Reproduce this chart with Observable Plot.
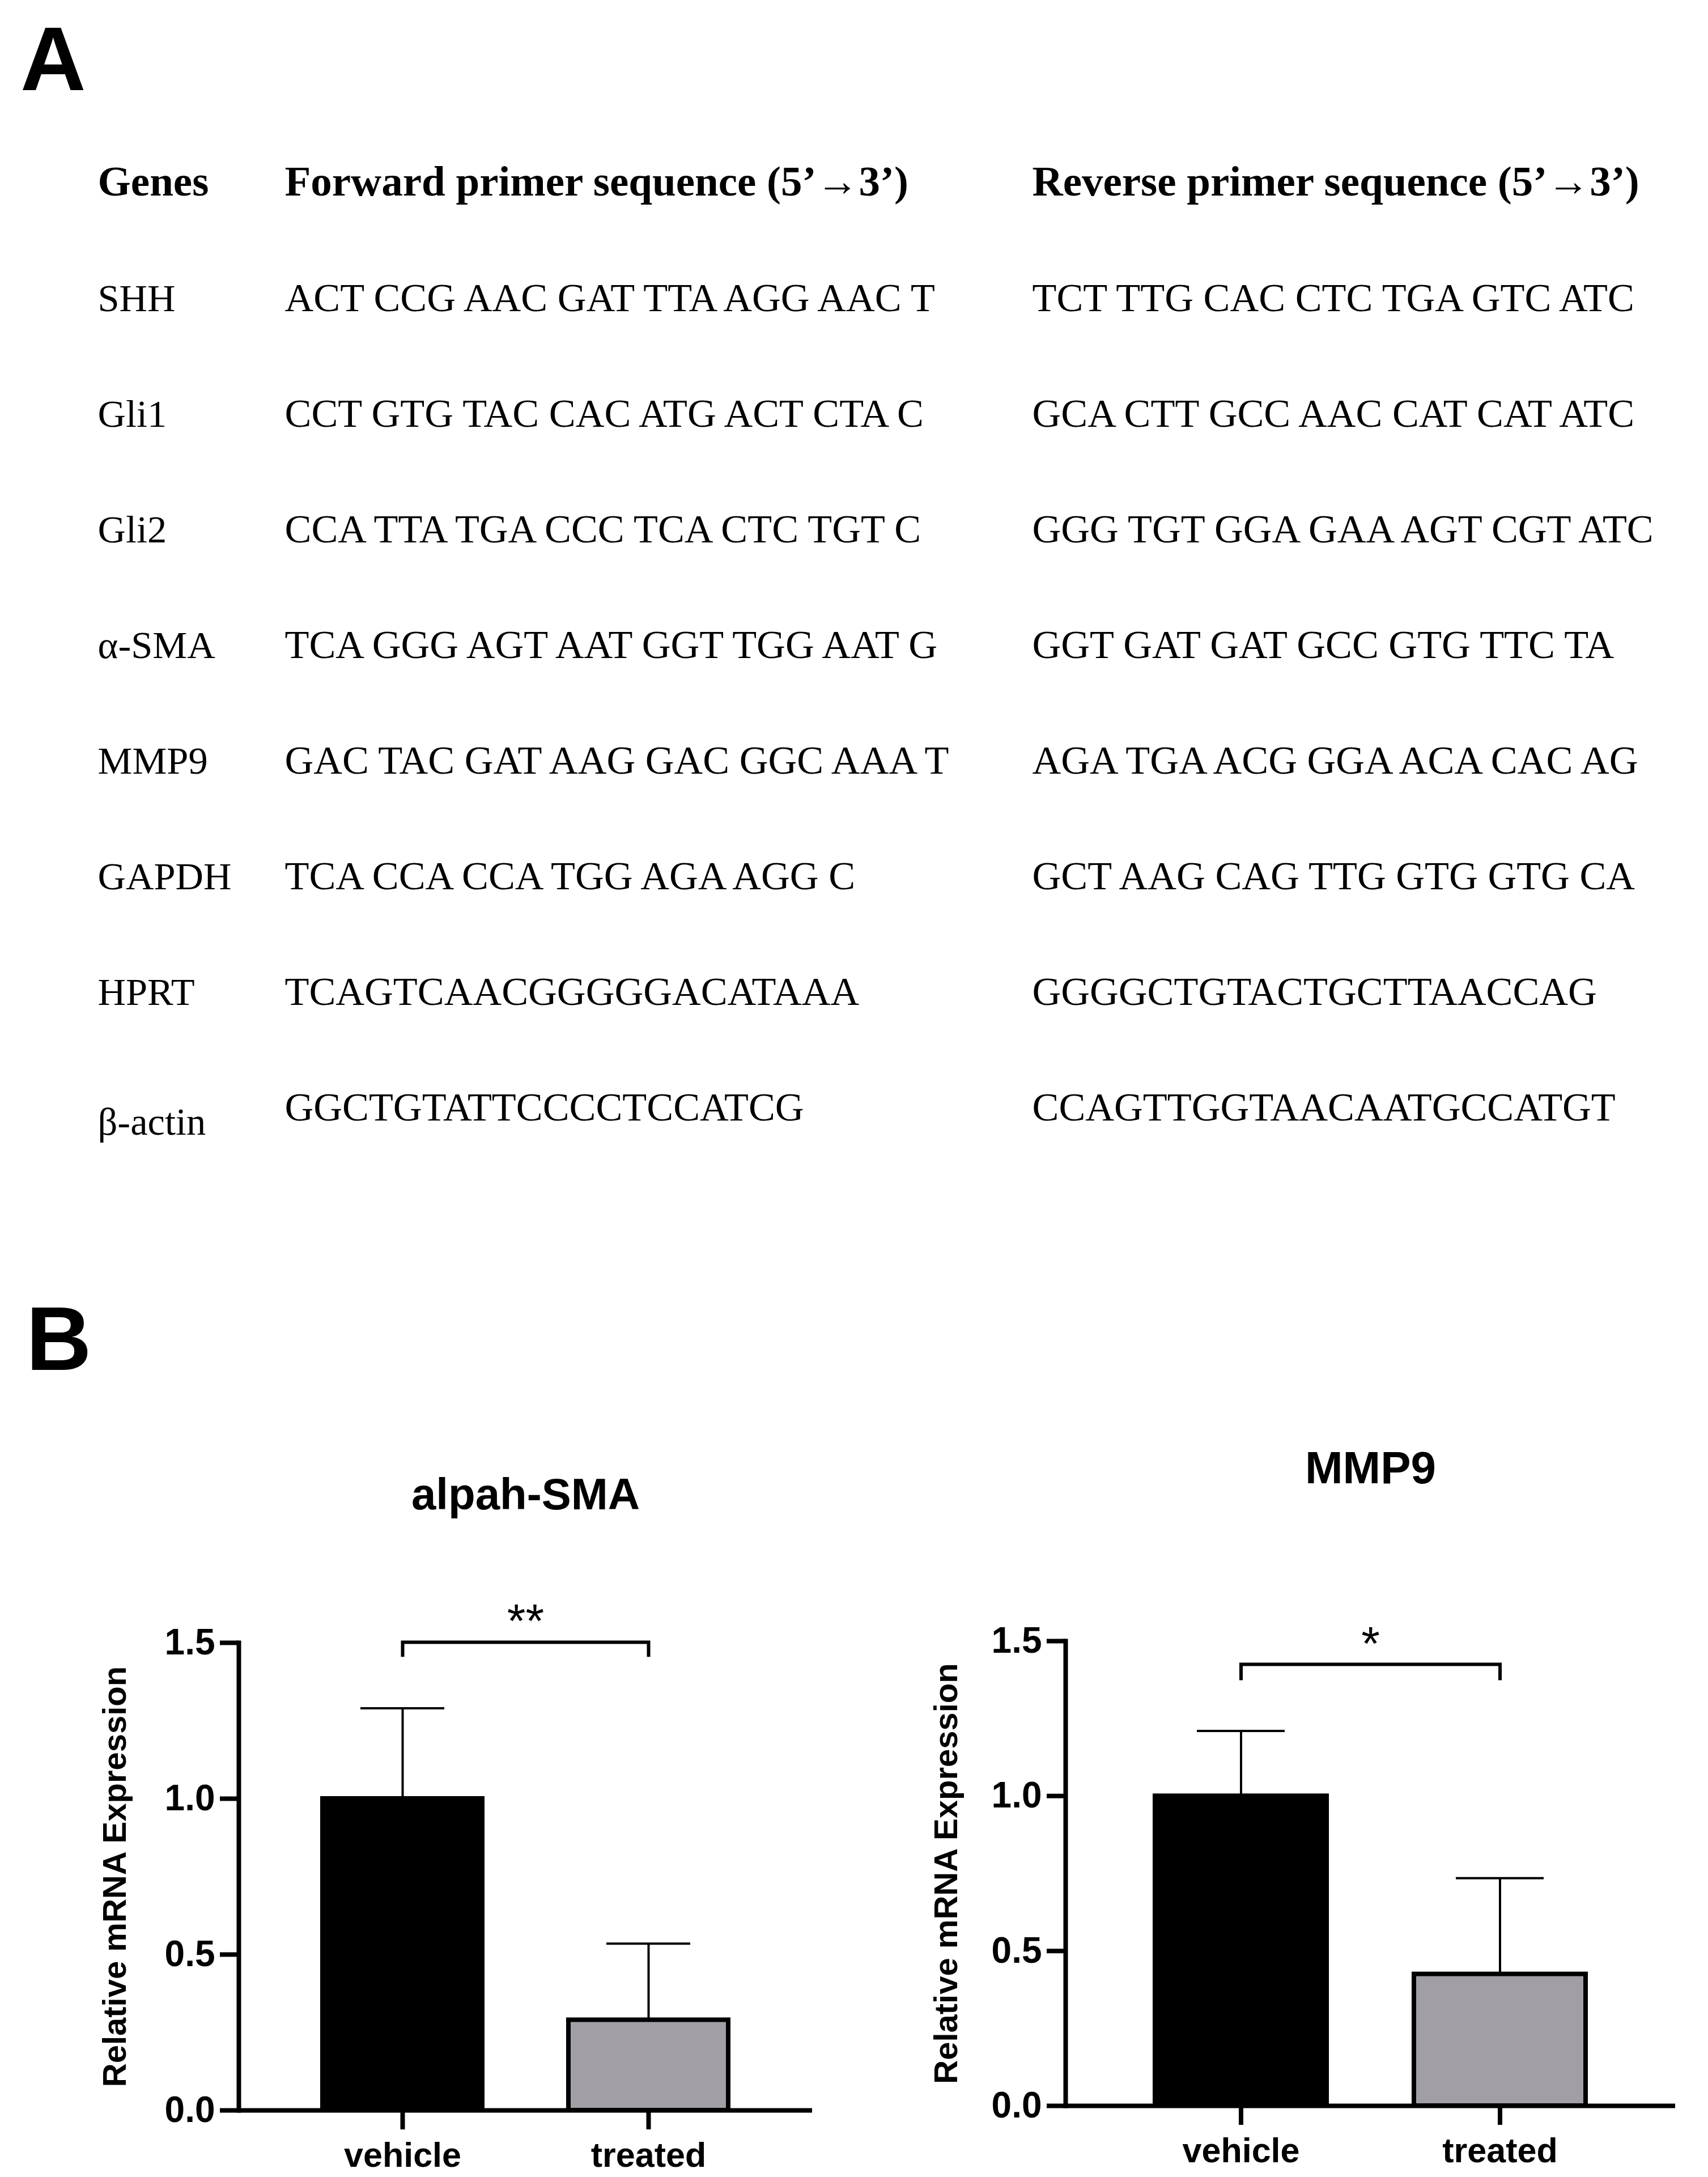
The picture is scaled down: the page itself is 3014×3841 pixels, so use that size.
<!DOCTYPE html>
<html><head><meta charset="utf-8">
<script src="https://cdn.jsdelivr.net/npm/d3@7"></script>
<script src="https://cdn.jsdelivr.net/npm/@observablehq/plot@0.6"></script>
<style>
html,body{margin:0;padding:0;background:#fff;}
#page{position:relative;width:3014px;height:3841px;background:#fff;overflow:hidden;}
.panel{position:absolute;font-family:"Liberation Sans",Arial,sans-serif;font-weight:bold;font-size:160px;line-height:1;color:#000;}
</style></head>
<body><div id="page">
<div class="panel" style="left:36px;top:24px">A</div>
<div class="panel" style="left:46px;top:2282px">B</div>
</div>
<script>
// ---------- Panel A data ----------
const tableHeaders = ["Genes", "Forward primer sequence (5’→3’)", "Reverse primer sequence (5’→3’)"];
const genes = ["SHH", "Gli1", "Gli2", "α-SMA", "MMP9", "GAPDH", "HPRT", "β-actin"];
const forwardPrimers = [
  "ACT CCG AAC GAT TTA AGG AAC T",
  "CCT GTG TAC CAC ATG ACT CTA C",
  "CCA TTA TGA CCC TCA CTC TGT C",
  "TCA GGG AGT AAT GGT TGG AAT G",
  "GAC TAC GAT AAG GAC GGC AAA T",
  "TCA CCA CCA TGG AGA AGG C",
  "TCAGTCAACGGGGGACATAAA",
  "GGCTGTATTCCCCTCCATCG"
];
const reversePrimers = [
  "TCT TTG CAC CTC TGA GTC ATC",
  "GCA CTT GCC AAC CAT CAT ATC",
  "GGG TGT GGA GAA AGT CGT ATC",
  "GGT GAT GAT GCC GTG TTC TA",
  "AGA TGA ACG GGA ACA CAC AG",
  "GCT AAG CAG TTG GTG GTG CA",
  "GGGGCTGTACTGCTTAACCAG",
  "CCAGTTGGTAACAATGCCATGT"
];

// ---------- Panel B data ----------
const groups = ["vehicle", "treated"];
const smaMean = [1.0, 0.29];
const smaSD = [0.29, 0.245];
const mmp9Mean = [1.0, 0.425];
const mmp9SD = [0.21, 0.31];
const yTicks = [0, 0.5, 1.0, 1.5];
const smaBracket = {top: 1.502, foot: 1.455, label: "**"};
const mmp9Bracket = {top: 1.425, foot: 1.374, label: "*"};
const yAxisLabel = "Relative mRNA Expression";
const barColors = ["#000000", "#a19fa5"];

const page = document.getElementById("page");
function place(el, left, top) {
  el.style.position = "absolute";
  el.style.left = left + "px";
  el.style.top = top + "px";
  page.appendChild(el);
}

// ---------- Panel A: primer table ----------
const HEADER = "__header";
const rows = genes.map((g, i) => ({gene: g, fwd: forwardPrimers[i], rev: reversePrimers[i]}));
const colOffsets = [172, 502, 1821];
const colAccess = [d => d.gene, d => d.fwd, d => d.rev];
const colFont = [68.5, 70.3, 70.3];
const tableMarks = [];
colOffsets.forEach((off, c) => {
  tableMarks.push(Plot.text([tableHeaders[c]], {
    y: () => HEADER, text: d => d, frameAnchor: "left", textAnchor: "start",
    lineAnchor: "bottom", dx: off, fontSize: 75, fontWeight: "bold"
  }));
  tableMarks.push(Plot.text(rows, {
    filter: c === 0 ? (d => d.gene !== "β-actin") : undefined,
    y: "gene", text: colAccess[c], frameAnchor: "left", textAnchor: "start",
    lineAnchor: "bottom", dx: off, fontSize: colFont[c]
  }));
});
tableMarks.push(Plot.text(rows, {
  filter: d => d.gene === "β-actin",
  y: "gene", text: d => d.gene, frameAnchor: "left", textAnchor: "start",
  lineAnchor: "bottom", dx: colOffsets[0], dy: 25, fontSize: colFont[0]
}));

const table = Plot.plot({
  width: 3014, height: 2100, margin: 0,
  y: {type: "point", domain: [HEADER, ...genes], range: [341, 1978], padding: 0, axis: null},
  style: {fontFamily: "'Liberation Serif','Times New Roman',serif", color: "#000", background: "transparent"},
  marks: tableMarks
});
place(table, 0, 0);

// ---------- Panel B: bar charts ----------
function barChart(o) {
  const data = groups.map((g, i) => ({group: g, mean: o.mean[i], sd: o.sd[i]}));
  const bracketPts = [
    {group: groups[0], y: o.bracket.foot},
    {group: groups[0], y: o.bracket.top},
    {group: groups[1], y: o.bracket.top},
    {group: groups[1], y: o.bracket.foot}
  ];
  return Plot.plot({
    width: o.width, height: o.height,
    marginLeft: o.ml, marginRight: o.mr, marginTop: o.mt, marginBottom: o.mb,
    x: {type: "band", domain: groups, paddingInner: o.padIn, paddingOuter: o.padOut, label: null},
    y: {domain: [0, 1.5], label: null},
    color: {domain: groups, range: barColors},
    style: {fontFamily: "'Liberation Sans',Arial,sans-serif", fontWeight: "bold", color: "#000", background: "transparent"},
    marks: [
      Plot.ruleX(data, {x: "group", y1: "mean", y2: d => d.mean + d.sd, strokeWidth: 4}),
      Plot.tickY(data, {x: "group", y: d => d.mean + d.sd, strokeWidth: 4, insetLeft: o.cap, insetRight: o.cap}),
      Plot.barY(data, {x: "group", y: "mean", fill: "group", stroke: "#000", strokeWidth: 8}),
      Plot.frame({anchor: "left", strokeWidth: 8, strokeLinecap: "square"}),
      Plot.ruleY([0], {strokeWidth: 8}),
      Plot.axisY({ticks: yTicks, tickFormat: d3.format(".1f"), tickSize: 33, tickPadding: 9, strokeWidth: 8, fontSize: 64, label: null}),
      Plot.axisX({tickSize: 34, tickPadding: 22, strokeWidth: 8, fontSize: 61, label: null}),
      Plot.line(bracketPts, {x: "group", y: "y", strokeWidth: 6, strokeLinejoin: "miter", strokeLinecap: "butt", strokeMiterlimit: 4}),
      Plot.text([o.bracket], {y: "top", text: "label", lineAnchor: "bottom", dy: -8, fontSize: 84, fontWeight: "normal"}),
      Plot.text([o.title], {frameAnchor: "top", text: d => d, lineAnchor: "bottom", dy: o.titleDy, fontSize: o.titleSize}),
      Plot.text([yAxisLabel], {frameAnchor: "left", text: d => d, textAnchor: "middle", lineAnchor: "middle", rotate: -90, dx: o.labelDx, fontSize: 58})
    ]
  });
}

const left = barChart({
  title: "alpah-SMA", titleSize: 78, mean: smaMean, sd: smaSD, bracket: smaBracket,
  width: 1507, height: 1391, ml: 421, mr: 74, mt: 448, mb: 118,
  padIn: 0.35, padOut: 0.34, cap: 67, titleDy: -236, labelDx: -218
});
place(left, 0, 2450);

const right = barChart({
  title: "MMP9", titleSize: 80, mean: mmp9Mean, sd: mmp9SD, bracket: mmp9Bracket,
  width: 1507, height: 1391, ml: 373, mr: 58, mt: 445, mb: 126,
  padIn: 0.336, padOut: 0.343, cap: 74, titleDy: -279, labelDx: -210
});
place(right, 1507, 2450);
</script>
</body></html>
